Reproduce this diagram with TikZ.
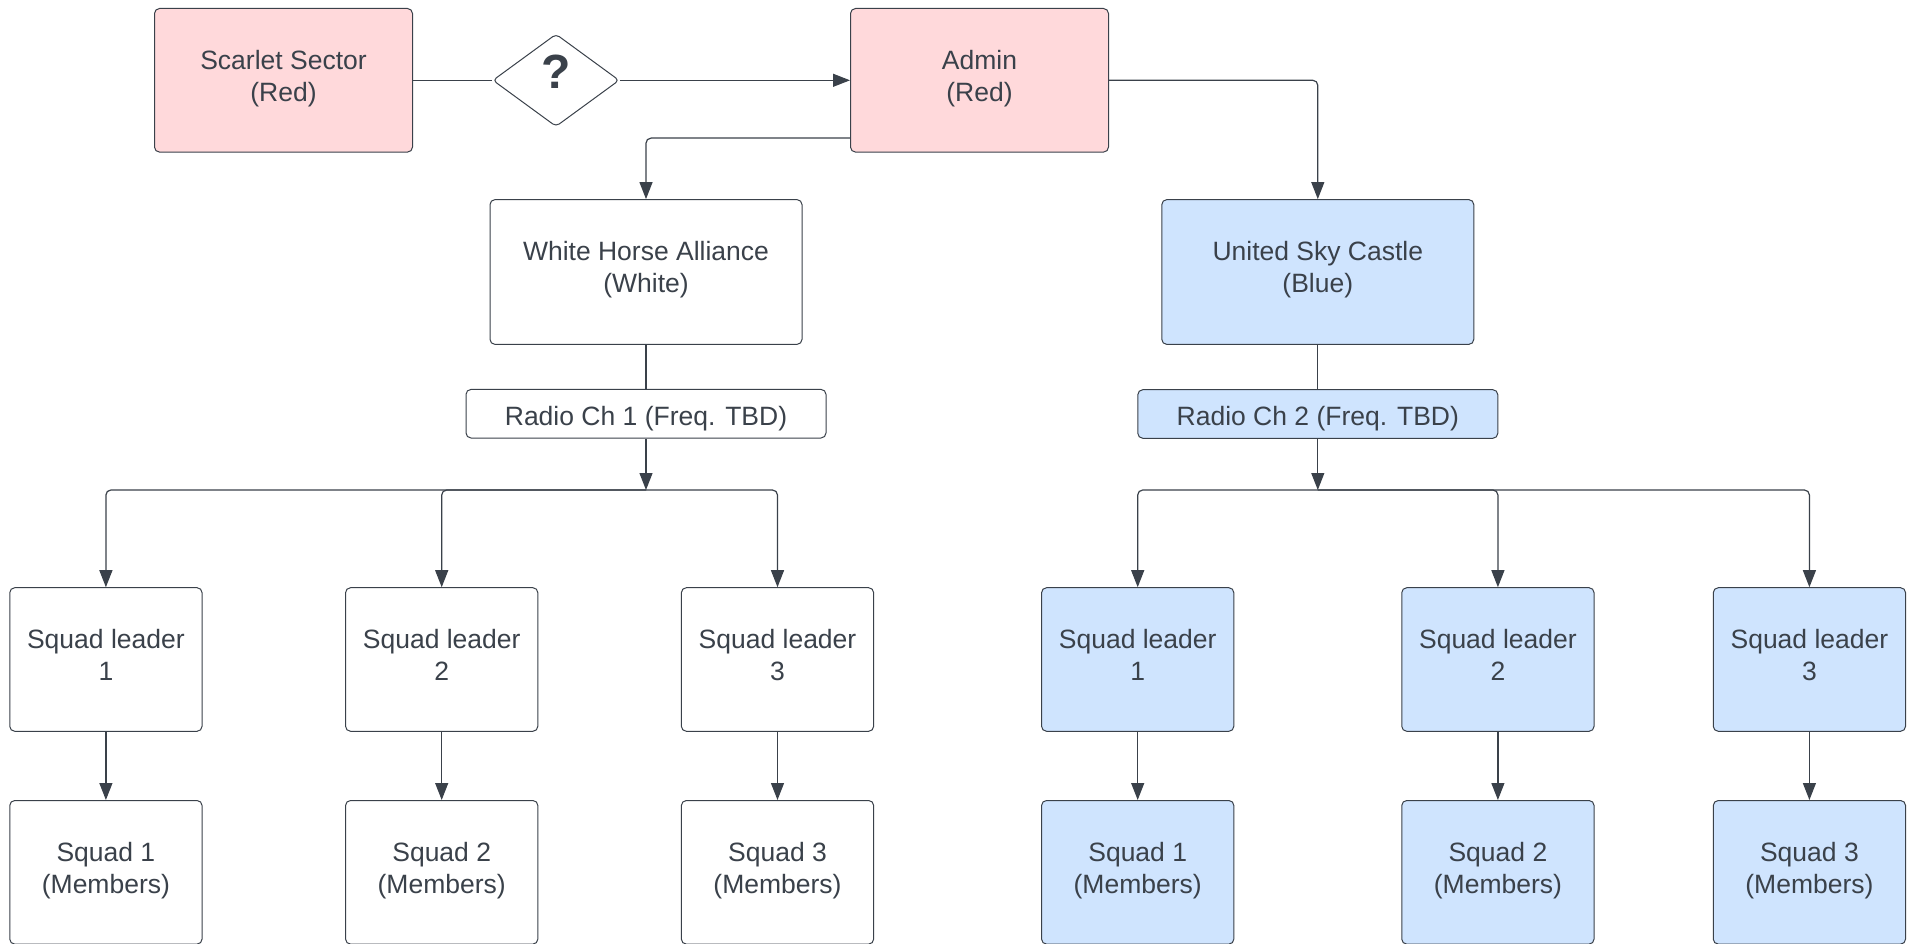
\documentclass[tikz,border=0pt]{standalone}
\usepackage{fontspec}
\setmainfont{Liberation Sans}
\usetikzlibrary{arrows.meta, shapes.geometric}
\definecolor{ink}{HTML}{3A414A}
\definecolor{redfill}{HTML}{FFD9DB}
\definecolor{bluefill}{HTML}{CFE4FE}
\begin{document}
\begin{tikzpicture}[x=1pt, y=-1pt, >={Triangle[length=17pt, width=13pt]},
    box/.style={draw=ink, line width=1pt, rounded corners=5pt, align=center,
        text=ink, inner sep=0pt, font=\fontsize{26.5}{32}\selectfont,
        text height=46pt, text depth=4.4pt},
    bigbox/.style={box, minimum width=258pt, minimum height=143.6pt},
    groupbox/.style={box, minimum width=312pt, minimum height=144.8pt},
    radiobox/.style={box, minimum width=360pt, minimum height=48.6pt,
        text height=28pt, text depth=4.4pt},
    squadbox/.style={box, minimum width=192.3pt, minimum height=143.6pt},
    link/.style={draw=ink, line width=1.2pt, rounded corners=5pt}]
    \useasboundingbox (0,0) rectangle (1908,944);

    % 1. Top row
    \node[bigbox, fill=redfill] (scarlet) at (283.5,80.3) {Scarlet Sector\\(Red)};
    \node[bigbox, fill=redfill] (admin) at (979.5,80.3) {Admin\\(Red)};
    \node[draw=ink, line width=1pt, shape=diamond, aspect=1.37, rounded corners=4pt,
        minimum width=126.5pt, minimum height=92.5pt, inner sep=0pt, fill=white,
        text=ink, font=\fontsize{48}{48}\selectfont\bfseries,
        text height=35pt, text depth=19pt] (ask) at (556,80.3) {?};
    \draw[link] (scarlet.east) -- (ask.west);
    \draw[link, ->] (ask.east) -- (admin.west);

    % 2. Groups and radio channels
    \node[groupbox, fill=white] (white) at (646,272) {White Horse Alliance\\(White)};
    \node[groupbox, fill=bluefill] (sky) at (1317.8,272) {United Sky Castle\\(Blue)};
    \node[radiobox, fill=white] (radio1) at (646,413.7) {Radio Ch 1 (Freq. TBD)};
    \node[radiobox, fill=bluefill] (radio2) at (1317.8,414) {Radio Ch 2 (Freq. TBD)};
    \draw[link, ->] ([yshift=14.5pt]admin.south west) -| (white.north);
    \draw[link, ->] (admin.east) -| (sky.north);
    \draw[link] (white) -- (radio1);
    \draw[link] (sky) -- (radio2);

    % 3. Bus lines
    \coordinate (bus1) at (646,490);
    \coordinate (bus2) at (1317.8,490);
    \draw[link, ->] (radio1) -- (bus1);
    \draw[link, ->] (radio2) -- (bus2);

    % 4. Squads of White Horse Alliance
    \foreach \i/\x in {1/105.9, 2/441.7, 3/777.5} {
        \node[squadbox, fill=white] (wlead\i) at (\x,659.5) {Squad leader\\\i};
        \node[squadbox, fill=white] (wsquad\i) at (\x,872.3) {Squad \i\\(Members)};
        \draw[link, ->] (bus1) -| (wlead\i.north);
        \draw[link, ->] (wlead\i) -- (wsquad\i);
    }

    % 5. Squads of United Sky Castle
    \foreach \i/\x in {1/1137.7, 2/1497.9, 3/1809.4} {
        \node[squadbox, fill=bluefill] (blead\i) at (\x,659.5) {Squad leader\\\i};
        \node[squadbox, fill=bluefill] (bsquad\i) at (\x,872.3) {Squad \i\\(Members)};
        \draw[link, ->] (bus2) -| (blead\i.north);
        \draw[link, ->] (blead\i) -- (bsquad\i);
    }
\end{tikzpicture}
\end{document}
